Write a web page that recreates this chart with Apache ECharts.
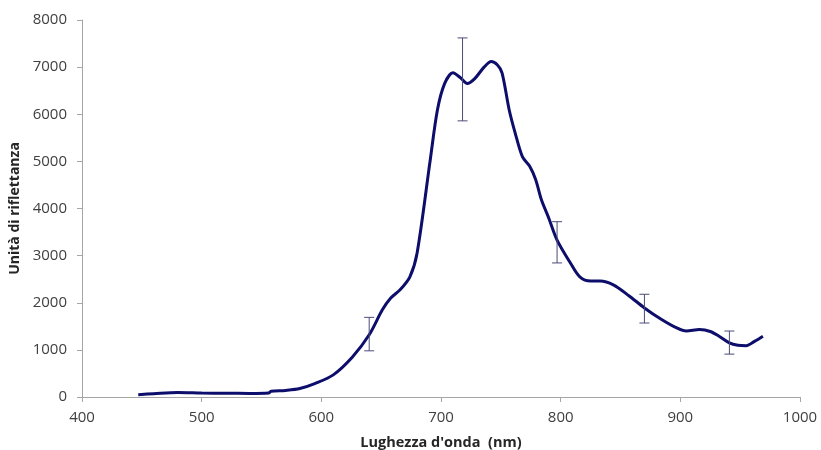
<!DOCTYPE html>
<html>
<head>
<meta charset="utf-8">
<script src="https://cdn.jsdelivr.net/npm/echarts@6/dist/echarts.min.js"></script>
<style>
  html, body { margin: 0; padding: 0; background: #fff; }
  #chart { width: 821px; height: 450px; }
</style>
</head>
<body>
<div id="chart"></div>
<script>
// lunghezze d'onda (nm) e valori di riflettanza
var wavelengths = [447, 460, 480, 500, 520, 540, 556, 558, 570, 582, 595, 610, 626, 640, 651, 658, 666, 674, 680, 691, 697, 703, 710, 716, 722, 728, 736, 742, 747, 751, 757, 762, 768, 774, 779, 784, 790, 797, 808, 816, 825, 833, 844, 857, 870, 884, 897, 905, 916, 925, 933, 941, 948, 955, 962, 969];
var reflectance = [50, 70, 95, 85, 80, 75, 85, 120, 140, 180, 290, 470, 850, 1320, 1850, 2100, 2280, 2550, 3050, 5030, 6090, 6650, 6880, 6780, 6650, 6750, 7000, 7120, 7050, 6880, 6090, 5600, 5100, 4900, 4620, 4180, 3800, 3330, 2850, 2550, 2460, 2460, 2380, 2150, 1890, 1650, 1465, 1400, 1430, 1390, 1280, 1150, 1100, 1090, 1180, 1290];

// barre d'errore: x, minimo, massimo
var errX = [640, 718, 797, 870, 941];
var errLow = [980, 5860, 2845, 1570, 910];
var errHigh = [1690, 7620, 3720, 2180, 1400];

var xTicks = [400, 1000, 100];   // min, max, passo
var yTicks = [0, 8000, 1000];

var lineData = wavelengths.map(function (w, i) { return [w, reflectance[i]]; });
var errData = errX.map(function (x, i) { return [x, errLow[i], errHigh[i]]; });

var myChart = echarts.init(document.getElementById('chart'));
var labelFont = '"Open Sans", "Liberation Sans", sans-serif';

var option = {
    animation: false,
    grid: { left: 82, right: 21, top: 20, bottom: 53, outerBoundsMode: 'none', containLabel: false },
    xAxis: {
        type: 'value',
        min: xTicks[0], max: xTicks[1], interval: xTicks[2],
        name: "Lughezza d'onda  (nm)",
        nameLocation: 'middle',
        nameGap: 38,
        nameTextStyle: { fontFamily: labelFont, fontWeight: 'bold', fontSize: 14.5, color: '#262626' },
        axisLine: { lineStyle: { color: '#a6a6a6', width: 1 } },
        axisTick: { show: true, length: 5, lineStyle: { color: '#a6a6a6' } },
        axisLabel: { fontFamily: labelFont, fontSize: 15, color: '#404040', margin: 13, formatter: function (v) { return String(v); } },
        splitLine: { show: false }
    },
    yAxis: {
        type: 'value',
        min: yTicks[0], max: yTicks[1], interval: yTicks[2],
        name: 'Unità di riflettanza',
        nameLocation: 'middle',
        nameGap: 60,
        nameTextStyle: { fontFamily: labelFont, fontWeight: 'bold', fontSize: 14, color: '#262626' },
        axisLine: { show: true, lineStyle: { color: '#a6a6a6', width: 1 } },
        axisTick: { show: true, length: 5, lineStyle: { color: '#a6a6a6' } },
        axisLabel: { fontFamily: labelFont, fontSize: 15, color: '#404040', margin: 15, formatter: function (v) { return String(v); } },
        splitLine: { show: false }
    },
    series: [
        {
            type: 'line',
            data: lineData,
            smooth: 0.3,
            showSymbol: false,
            lineStyle: { color: '#0d0d6b', width: 3 },
            z: 2
        },
        {
            type: 'custom',
            data: errData,
            z: 3,
            renderItem: function (params, api) {
                var x = api.value(0);
                var lo = api.coord([x, api.value(1)]);
                var hi = api.coord([x, api.value(2)]);
                var w = 5;
                var st = { stroke: '#4b4b7a', lineWidth: 1 };
                return {
                    type: 'group',
                    children: [
                        { type: 'line', shape: { x1: lo[0], y1: lo[1], x2: hi[0], y2: hi[1] }, style: st },
                        { type: 'line', shape: { x1: lo[0] - w, y1: lo[1], x2: lo[0] + w, y2: lo[1] }, style: st },
                        { type: 'line', shape: { x1: hi[0] - w, y1: hi[1], x2: hi[0] + w, y2: hi[1] }, style: st }
                    ]
                };
            }
        }
    ]
};

myChart.setOption(option);
</script>
</body>
</html>
